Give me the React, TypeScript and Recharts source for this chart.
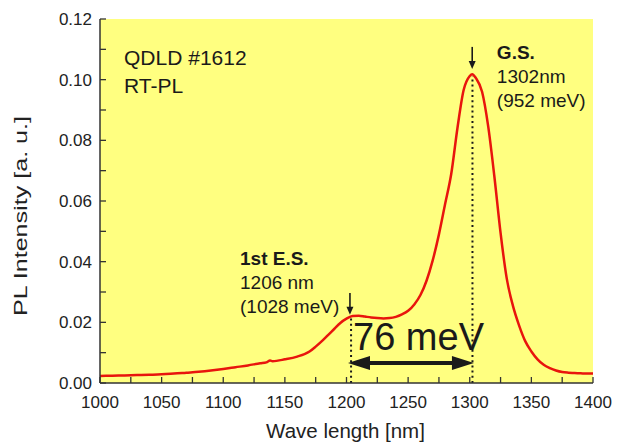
import React from 'react';
import { LineChart, Line, XAxis, YAxis, CartesianGrid, ReferenceLine, ReferenceDot } from 'recharts';

const wavelengths = [
  1000, 1010, 1020, 1030, 1040, 1050, 1060, 1070, 1080, 1090,
  1100, 1110, 1120, 1130, 1135, 1138, 1140, 1150, 1160, 1170,
  1175, 1180, 1185, 1190, 1195, 1200, 1205, 1210, 1215, 1220,
  1225, 1230, 1235, 1240, 1245, 1250, 1255, 1260, 1265, 1270,
  1275, 1280, 1285, 1290, 1295, 1300, 1302, 1305, 1310, 1315,
  1320, 1325, 1330, 1335, 1340, 1345, 1350, 1355, 1360, 1365,
  1370, 1375, 1380, 1385, 1390, 1395, 1400,
];
const intensity = [
  0.0023, 0.0024, 0.0025, 0.0026, 0.0027, 0.0029, 0.0031, 0.0034, 0.0037, 0.0041,
  0.0046, 0.0052, 0.0058, 0.0065, 0.0068, 0.0074, 0.0072, 0.0078, 0.0087, 0.0104,
  0.0120, 0.0138, 0.0158, 0.0178, 0.0198, 0.0212, 0.0221, 0.0222, 0.0219, 0.0216,
  0.0214, 0.0213, 0.0214, 0.0218, 0.0226, 0.0238, 0.0259, 0.0290, 0.0338, 0.0405,
  0.0490, 0.0590, 0.0690, 0.0840, 0.0965, 0.1012, 0.1018, 0.1005, 0.0960, 0.0845,
  0.0680, 0.0495, 0.0345, 0.0255, 0.0190, 0.0138, 0.0104, 0.0078, 0.0060, 0.0049,
  0.0041, 0.0036, 0.0034, 0.0033, 0.0032, 0.0031, 0.0031,
];

const xTicks = [1000, 1025, 1050, 1075, 1100, 1125, 1150, 1175, 1200, 1225, 1250, 1275, 1300, 1325, 1350, 1375, 1400];
const yTicks = [0, 0.01, 0.02, 0.03, 0.04, 0.05, 0.06, 0.07, 0.08, 0.09, 0.1, 0.11, 0.12];

const sampleLines = ['QDLD #1612', 'RT-PL'];
const gsLines = ['G.S.', '1302nm', '(952 meV)'];
const esLines = ['1st E.S.', '1206 nm', '(1028 meV)'];
const splitting = '76 meV';

const data = wavelengths.map((nm, i) => ({ nm, v: intensity[i] }));

const FONT = '"Liberation Sans", Arial, Helvetica, sans-serif';
const INK = '#1a1a1a';

const xFmt = (v: number) => (Math.round(v) % 50 === 0 ? String(v) : '');
const yFmt = (v: number) => (Math.round(v * 100) % 2 === 0 ? v.toFixed(2) : '');
const blank = () => '';

const arrowShape = (headLen: number, headW: number, width: number, both: boolean) => (p: any) => {
  const { x1, y1, x2, y2 } = p;
  const dx = x2 - x1;
  const dy = y2 - y1;
  const len = Math.sqrt(dx * dx + dy * dy) || 1;
  const ux = dx / len;
  const uy = dy / len;
  const nx = -uy;
  const ny = ux;
  const head = (tx: number, ty: number, sx: number, sy: number) => {
    const bx = tx - sx * headLen;
    const by = ty - sy * headLen;
    return `${tx},${ty} ${bx + nx * headW},${by + ny * headW} ${bx - nx * headW},${by - ny * headW}`;
  };
  const sx1 = both ? x1 + ux * headLen * 0.8 : x1;
  const sy1 = both ? y1 + uy * headLen * 0.8 : y1;
  const sx2 = x2 - ux * headLen * 0.8;
  const sy2 = y2 - uy * headLen * 0.8;
  return (
    <g>
      <line x1={sx1} y1={sy1} x2={sx2} y2={sy2} stroke={INK} strokeWidth={width} />
      <polygon points={head(x2, y2, ux, uy)} fill={INK} />
      {both && <polygon points={head(x1, y1, -ux, -uy)} fill={INK} />}
    </g>
  );
};

const textBlock = (lines: string[], size: number, gap: number, boldFirst: boolean) => (p: any) => (
  <text x={p.cx} y={p.cy} fontSize={size} fill={INK} fontFamily={FONT}>
    {lines.map((l, i) => (
      <tspan key={i} x={p.cx} dy={i === 0 ? 0 : gap} fontWeight={boldFirst && i === 0 ? 'bold' : 'normal'}>
        {l}
      </tspan>
    ))}
  </text>
);

const dottedShape = (p: any) => (
  <line x1={p.x1} y1={p.y1} x2={p.x2} y2={p.y2} stroke={INK} strokeWidth={2} strokeDasharray="2 3.2" />
);

export default function App() {
  return (
    <div style={{ position: 'absolute', left: 0, top: 0, width: 627, height: 445, background: '#fff', fontFamily: FONT }}>
      <LineChart width={627} height={445} data={data} margin={{ top: 19, right: 34, bottom: 0, left: 0 }}>
        <CartesianGrid horizontal={false} vertical={false} fill="#FFFF80" />
        <XAxis
          dataKey="nm"
          type="number"
          domain={[1000, 1400]}
          ticks={xTicks}
          tickFormatter={xFmt}
          interval={0}
          height={62}
          tickSize={-6}
          tickMargin={19}
          stroke="#333"
          axisLine={{ stroke: '#333', strokeWidth: 1.5 }}
          tickLine={{ stroke: '#333', strokeWidth: 1.3 }}
          tick={{ fontSize: 17, fill: '#222', fontFamily: FONT }}
          label={{
            content: (lp: any) => {
              const vb = lp.viewBox;
              return (
                <text x={vb.x + vb.width / 2 - 1} y={438} textAnchor="middle" fontSize={20.5} fill="#222" fontFamily={FONT}>
                  Wave length [nm]
                </text>
              );
            },
          }}
        />
        <XAxis
          xAxisId="top"
          orientation="top"
          type="number"
          domain={[1000, 1400]}
          ticks={xTicks}
          tickFormatter={blank}
          interval={0}
          height={0}
          tickSize={-6}
          axisLine={{ stroke: '#333', strokeWidth: 1.5 }}
          tickLine={{ stroke: '#333', strokeWidth: 1.3 }}
        />
        <YAxis
          type="number"
          domain={[0, 0.12]}
          ticks={yTicks}
          tickFormatter={yFmt}
          interval={0}
          width={100}
          tickSize={-6}
          tickMargin={14}
          axisLine={{ stroke: '#333', strokeWidth: 1.5 }}
          tickLine={{ stroke: '#333', strokeWidth: 1.3 }}
          tick={{ fontSize: 17, fill: '#222', fontFamily: FONT }}
          label={{
            content: (lp: any) => {
              const vb = lp.viewBox;
              const cy = vb.y + vb.height / 2 + 15;
              return (
                <text
                  x={27}
                  y={cy}
                  transform={`rotate(-90 27 ${cy})`}
                  textAnchor="middle"
                  fontSize={18.5}
                  fill="#222"
                  fontFamily={FONT}
                  textLength={200}
                  lengthAdjust="spacingAndGlyphs"
                >
                  PL Intensity [a. u.]
                </text>
              );
            },
          }}
        />
        <YAxis
          yAxisId="right"
          orientation="right"
          type="number"
          domain={[0, 0.12]}
          ticks={yTicks}
          tickFormatter={blank}
          interval={0}
          width={0}
          tickSize={-6}
          axisLine={{ stroke: '#333', strokeWidth: 1.5 }}
          tickLine={{ stroke: '#333', strokeWidth: 1.3 }}
        />
        <ReferenceLine segment={[{ x: 1203.7, y: 0 }, { x: 1203.7, y: 0.0218 }]} shape={dottedShape} />
        <ReferenceLine segment={[{ x: 1302.2, y: 0 }, { x: 1302.2, y: 0.1012 }]} shape={dottedShape} />
        <Line
          dataKey="v"
          type="monotone"
          stroke="#E8150D"
          strokeWidth={2.5}
          dot={false}
          activeDot={false}
          isAnimationActive={false}
        />
        <ReferenceLine segment={[{ x: 1302, y: 0.1108 }, { x: 1302, y: 0.1035 }]} shape={arrowShape(8, 3.5, 1.6, false)} />
        <ReferenceLine segment={[{ x: 1202.8, y: 0.0297 }, { x: 1202.8, y: 0.0225 }]} shape={arrowShape(8, 3.5, 1.6, false)} />
        <ReferenceLine segment={[{ x: 1201.2, y: 0.0066 }, { x: 1303.4, y: 0.0066 }]} shape={arrowShape(22, 7, 4, true)} />
        <ReferenceDot x={1019.5} y={0.1048} shape={textBlock(sampleLines, 21, 28, false)} />
        <ReferenceDot x={1322} y={0.1068} shape={textBlock(gsLines, 19, 24, true)} />
        <ReferenceDot x={1113.6} y={0.0389} shape={textBlock(esLines, 19, 24, true)} />
        <ReferenceDot x={1205.3} y={0.0109} shape={textBlock([splitting], 38, 0, false)} />
      </LineChart>
    </div>
  );
}
